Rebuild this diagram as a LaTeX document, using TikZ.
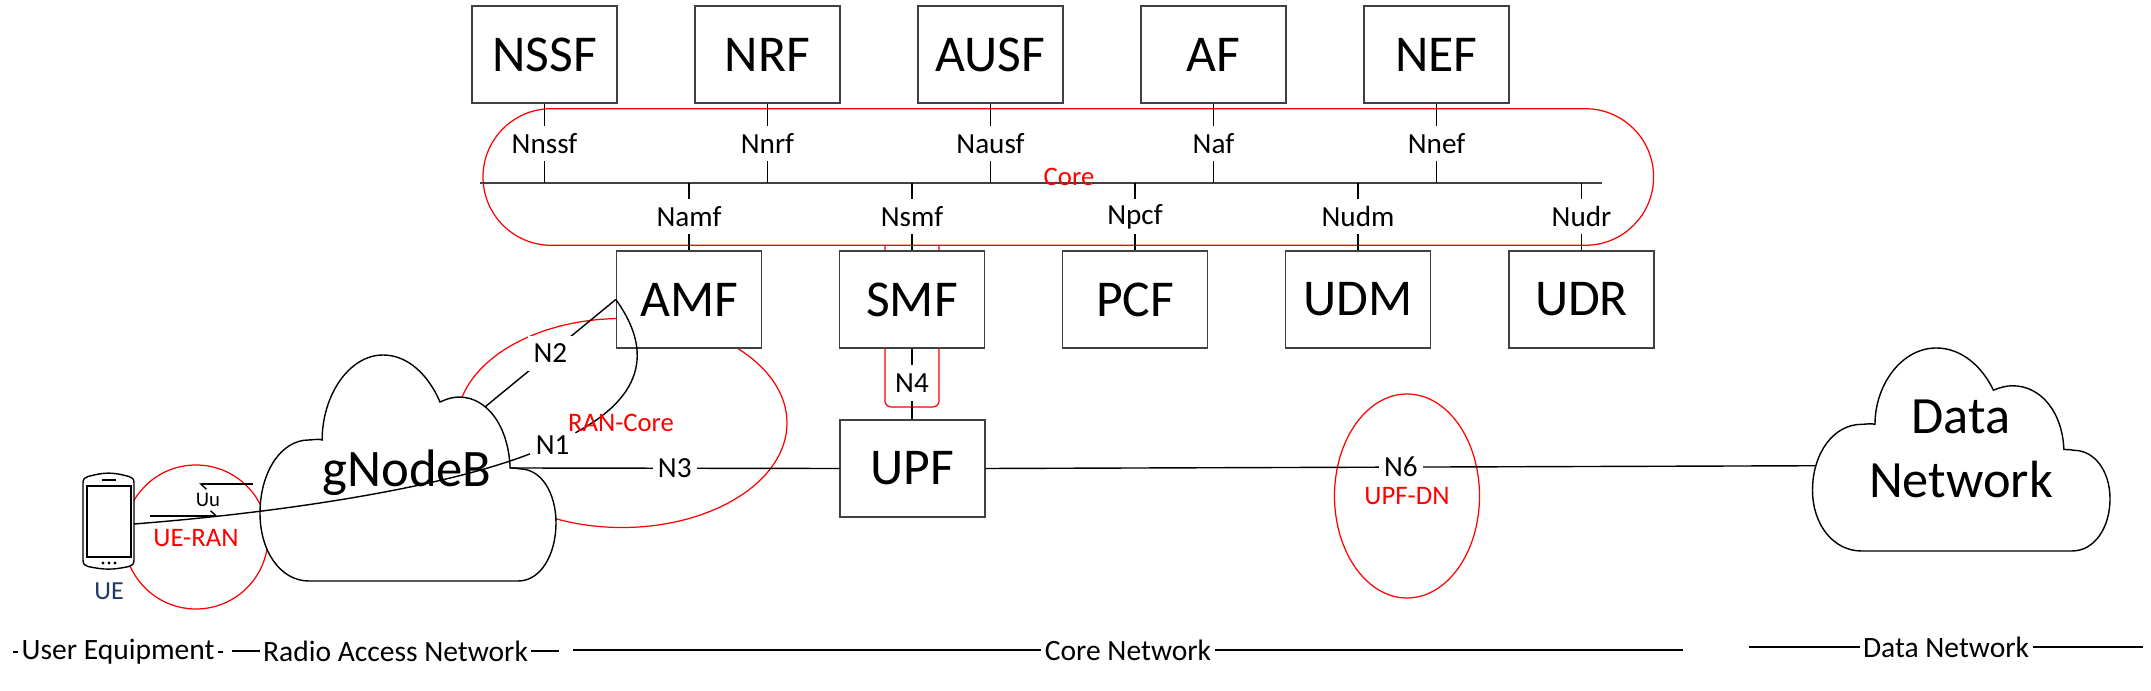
\documentclass[tikz,border=0pt]{standalone}
\usepackage{fontspec}
\setmainfont{Carlito}
\usepackage{xcolor}
\usetikzlibrary{arrows.meta}
\definecolor{uenavy}{HTML}{1F3864}
\tikzset{
  nfbox/.style={shape=rectangle,draw=black!75,line width=.4pt,fill=white,minimum width=1.45cm,minimum height=.97cm,inner sep=0pt,font=\fontsize{14.7}{17}\selectfont},
  iflabel/.style={fill=white,inner xsep=1.5pt,inner ysep=0pt,minimum height=.35cm,font=\fontsize{8.3}{9}\selectfont},
  spanlabel/.style={fill=white,inner xsep=1pt,inner ysep=0pt,font=\fontsize{8.4}{9}\selectfont},
  redtext/.style={text=red,inner sep=0pt,font=\fontsize{7.6}{9}\selectfont},
  redline/.style={draw=red,line width=.35pt},
  wire/.style={draw=black,line width=.4pt},
  uutip/.style={-{Straight Barb[left,length=1.6pt,width=3pt]}},
  pics/netcloud/.style={code={
    \draw[wire,fill=white] (.165,0) -- (.872,0)
      .. controls (.95,0) and (1,.12) .. (1,.257)
      .. controls (1,.39) and (.95,.496) .. (.878,.496)
      .. controls (.865,.5) and (.855,.5) .. (.845,.5)
      .. controls (.84,.68) and (.77,.814) .. (.672,.814)
      .. controls (.65,.814) and (.63,.805) .. (.608,.792)
      .. controls (.57,.91) and (.50,1) .. (.416,1)
      .. controls (.30,1) and (.21,.82) .. (.21,.624)
      .. controls (.195,.63) and (.18,.624) .. (.165,.624)
      .. controls (.07,.624) and (0,.48) .. (0,.30)
      .. controls (0,.13) and (.07,0) .. (.165,0) -- cycle;
    \coordinate (-n2) at (.76,.77);
    \coordinate (-n3) at (.845,.5);
    \coordinate (-n6) at (.012,.42);
  }}
}
\begin{document}
\begin{tikzpicture}
  \useasboundingbox (0,0) rectangle (21.51,6.90);

  % red groupings
  \draw[redline,rounded corners=.683cm] (4.83,4.447) rectangle (16.536,5.813);
  \draw[redline,rounded corners=.06cm] (8.85,4.45) -- (8.85,2.83) -- (9.39,2.83) -- (9.39,4.45);
  \draw[redline] (1.96,1.53) ellipse (.72 and .72);
  \draw[redline] (6.22,2.67) ellipse (1.65 and 1.045);
  \draw[redline] (14.07,1.94) ellipse (.725 and 1.02);

  % clouds
  \pic[xscale=2.96,yscale=2.26] (gnb) at (2.60,1.09) {netcloud};
  \pic[xscale=2.975,yscale=2.03] (dn) at (18.125,1.39) {netcloud};
  \node (gNodeB) at (4.07,2.17) [font=\fontsize{15}{17}\selectfont] {gNodeB};
  \node (DataNet) at (19.61,2.41) [align=center,font=\fontsize{14.9}{18.4}\selectfont] {Data\\Network};

  % functions
  \node[nfbox] (NSSF) at (5.445,6.355) {NSSF};
  \node[nfbox] (NRF) at (7.675,6.355) {NRF};
  \node[nfbox] (AUSF) at (9.905,6.355) {AUSF};
  \node[nfbox] (AF) at (12.135,6.355) {AF};
  \node[nfbox] (NEF) at (14.365,6.355) {NEF};
  \node[nfbox] (AMF) at (6.89,3.905) {AMF};
  \node[nfbox] (SMF) at (9.12,3.905) {SMF};
  \node[nfbox] (PCF) at (11.35,3.905) {PCF};
  \node[nfbox] (UDM) at (13.58,3.905) {UDM};
  \node[nfbox] (UDR) at (15.815,3.905) {UDR};
  \node[nfbox] (UPF) at (9.125,2.215) {UPF};

  % service bus
  \coordinate (busL) at (4.80,5.07);
  \coordinate (busR) at (16.02,5.07);
  \draw[wire,draw=black!75,line width=.5pt] (busL) -- (busR);
  \path [wire](NSSF) edge node[iflabel] {Nnssf} (NSSF |- busL);
  \path [wire](NRF) edge node[iflabel] {Nnrf} (NRF |- busL);
  \path [wire](AUSF) edge node[iflabel] {Nausf} (AUSF |- busL);
  \path [wire](AF) edge node[iflabel] {Naf} (AF |- busL);
  \path [wire](NEF) edge node[iflabel] {Nnef} (NEF |- busL);
  \path [wire](AMF) edge node[iflabel] {Namf} (AMF |- busL);
  \path [wire](SMF) edge node[iflabel] {Nsmf} (SMF |- busL);
  \path [wire](PCF) edge node[iflabel] {Npcf} (PCF |- busL);
  \path [wire](UDM) edge node[iflabel] {Nudm} (UDM |- busL);
  \path [wire](UDR) edge node[iflabel] {Nudr} (UDR |- busL);

  % phone
  \draw[wire,fill=white] (0.83,1.30) -- (0.83,2.07)
    .. controls (0.83,2.11) and (0.85,2.13) .. (0.88,2.135)
    .. controls (1.05,2.18) and (1.12,2.18) .. (1.29,2.135)
    .. controls (1.32,2.13) and (1.34,2.11) .. (1.34,2.07)
    -- (1.34,1.30)
    .. controls (1.34,1.26) and (1.32,1.24) .. (1.29,1.235)
    .. controls (1.12,1.20) and (1.05,1.20) .. (0.88,1.235)
    .. controls (0.85,1.24) and (0.83,1.26) .. cycle;
  \draw[wire] (0.87,1.33) rectangle (1.31,2.04);
  \draw[wire] (1.02,2.10) -- (1.16,2.10);
  \fill (1.03,1.27) circle (.016) (1.09,1.27) circle (.016) (1.15,1.27) circle (.016);
  \coordinate (uePort) at (1.34,1.66);
  \node (UE) at (1.09,0.99) [text=uenavy,inner sep=0pt,font=\fontsize{7.4}{9}\selectfont] {UE};

  % air interface
  \coordinate (uuUpR) at (2.53,2.06);
  \coordinate (uuUpL) at (1.99,2.06);
  \coordinate (uuLoL) at (1.50,1.74);
  \coordinate (uuLoR) at (2.18,1.74);
  \draw[wire,uutip] (uuUpR) -- (uuUpL);
  \draw[wire,uutip] (uuLoL) -- (uuLoR);
  \node (Uu) at (2.08,1.90) [inner sep=0pt,font=\fontsize{5.9}{7}\selectfont] {Uu};

  % reference points
  \node[iflabel] (N1) at (5.527,2.45) {N1};
  \node[iflabel] (N4) at (9.12,3.07) {N4};
  \draw[wire] (uePort) .. controls (3.0,1.79) and (4.5,2.05) .. (N1);
  \draw[wire] (N1) .. controls (6.55,3.0) and (6.45,3.5) .. (AMF.west);
  \path [wire](gnb-n2) edge node[iflabel] {N2} (AMF.west);
  \path [wire](gnb-n3) edge node[iflabel] {N3} (UPF.west);
  \path [wire](UPF.east) edge node[iflabel] {N6} (dn-n6);
  \draw[wire] (SMF.south -| N4) -- (N4);
  \draw[wire] (N4) -- (UPF.north -| N4);

  % red labels
  \node[redtext] (ueRan) at (1.96,1.52) {UE-RAN};
  \node[redtext] (ranCore) at (6.21,2.67) {RAN-Core};
  \node[redtext] (coreTag) at (10.69,5.13) {Core};
  \node[redtext] (upfDn) at (14.07,1.94) {UPF-DN};

  % spans
  \coordinate (ueSpanL) at (0.13,0.38);
  \coordinate (ueSpanR) at (2.23,0.38);
  \coordinate (ranSpanL) at (2.32,0.39);
  \coordinate (ranSpanR) at (5.59,0.39);
  \coordinate (coreSpanL) at (5.73,0.40);
  \coordinate (coreSpanR) at (16.83,0.40);
  \coordinate (dnSpanL) at (17.49,0.43);
  \coordinate (dnSpanR) at (21.43,0.43);
  \path [wire](ueSpanL) edge node[spanlabel] {User Equipment} (ueSpanR);
  \path [wire](ranSpanL) edge node[spanlabel] {Radio Access Network} (ranSpanR);
  \path [wire](coreSpanL) edge node[spanlabel] {Core Network} (coreSpanR);
  \path [wire](dnSpanL) edge node[spanlabel] {Data Network} (dnSpanR);
\end{tikzpicture}
\end{document}
